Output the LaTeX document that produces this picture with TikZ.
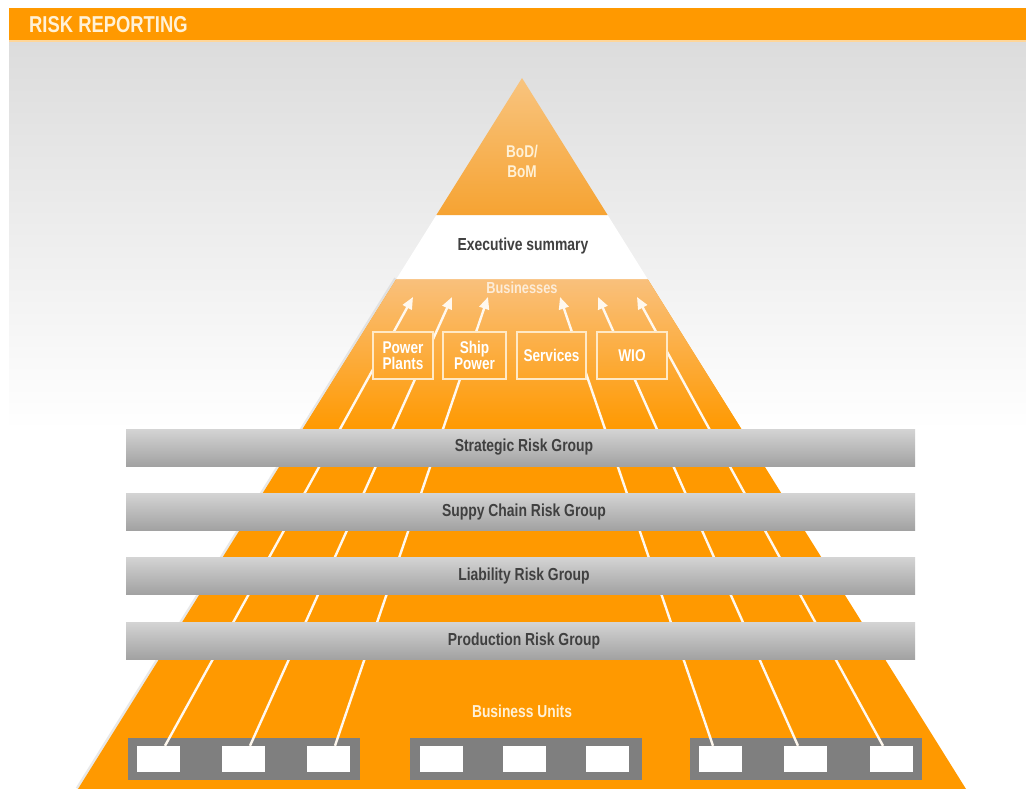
\documentclass[tikz,border=0pt]{standalone}
\usepackage{fontspec}
\setmainfont{Liberation Sans}
\newfontfamily\cnd[FakeStretch=0.8]{Liberation Sans}
\usetikzlibrary{arrows.meta,calc}
\definecolor{orM}{HTML}{FF9900}
\definecolor{orA}{HTML}{F9C07C}
\definecolor{bodT}{HTML}{F8C47F}
\definecolor{bodB}{HTML}{F6A332}
\definecolor{bgT}{HTML}{DCDCDC}
\definecolor{hdrtxt}{HTML}{FFF1D6}
\definecolor{darktxt}{HTML}{404040}
\definecolor{barT}{HTML}{D4D4D4}
\definecolor{barB}{HTML}{A2A2A2}
\definecolor{unitgray}{HTML}{7F7F7F}
\definecolor{boxline}{HTML}{FFE9C6}
\definecolor{linecol}{HTML}{FFF8EE}
\tikzset{
  hdrtext/.style={font=\cnd\bfseries\fontsize{23}{23}\selectfont, text=hdrtxt, inner sep=0},
  darklabel/.style={font=\cnd\bfseries\fontsize{17.4}{18}\selectfont, text=darktxt, inner sep=0},
  lightlabel/.style={font=\cnd\bfseries\fontsize{17.3}{18}\selectfont, text=hdrtxt, inner sep=0},
  bizbox/.style={draw=boxline, line width=1.8pt, inner sep=0, minimum height=47pt,
    top color=orM!35!orA, bottom color=orM!67!orA, text=white, align=center,
    font=\cnd\bfseries\fontsize{17}{16}\selectfont},
  riskbar/.style={inner sep=0, minimum width=789pt, minimum height=37pt,
    top color=barT, bottom color=barB, font=\cnd\bfseries\fontsize{17.4}{18}\selectfont, text=darktxt},
  unitgroup/.style={fill=unitgray, inner sep=0, minimum width=232pt, minimum height=42pt},
  unitbox/.style={fill=white, inner sep=0, minimum width=43pt, minimum height=26pt},
  reportline/.style={draw=linecol, line width=2.4pt, -{Triangle[width=10pt,length=12pt]}},
  edgeshadow/.style={draw=black!25, line width=5pt, opacity=0.35}
}
\begin{document}
\begin{tikzpicture}[x=1pt,y=-1pt]
\useasboundingbox (0,0) rectangle (1026,789);
\fill[white] (0,0) rectangle (1026,789);
% background
\shade[top color=bgT, bottom color=white] (9,40) rectangle (1026,430);
% header
\fill[orM] (9,8) rectangle (1026,40);
\fill[orM!40!white] (9,40) rectangle (1026,42);
\node[hdrtext, anchor=base west] (title) at (29,33) {RISK REPORTING};
% soft shadow along the pyramid sides
\draw[edgeshadow] (396.4,279) -- (78,789);
% pyramid body
\fill[orM] (396.4,279) -- (647.6,279) -- (966,789) -- (78,789) -- cycle;
\shade[top color=orA, bottom color=orM] (396.4,279) -- (647.6,279) -- (742,430) -- (302,430) -- cycle;
% executive summary band
\fill[white] (436.4,215) -- (607.6,215) -- (647.6,279) -- (396.4,279) -- cycle;
% BoD triangle
\shade[top color=bodT, bottom color=bodB] (522,78) -- (607.6,215) -- (436.4,215) -- cycle;
\node[font=\cnd\bfseries\fontsize{17}{20}\selectfont, text=hdrtxt, align=center] (bod) at (522,161) {BoD/\\BoM};
\node[darklabel] (exec) at (523,246) {Executive summary};
\node[font=\cnd\bfseries\fontsize{16}{16}\selectfont, text=orA!30!white, inner sep=0] (biz) at (522,288) {Businesses};
% arrow tips
\coordinate (t1) at (413,297);
\coordinate (t2) at (452,297);
\coordinate (t3) at (488,297);
\coordinate (t4) at (560,297);
\coordinate (t5) at (598,297);
\coordinate (t6) at (637,297);
% business units
\node[unitgroup] (g1) at (243.5,759) {};
\node[unitgroup] (g2) at (526,759) {};
\node[unitgroup] (g3) at (806,759) {};
\node[unitbox] (u1) at (158.5,759) {};
\node[unitbox] (u2) at (243.5,759) {};
\node[unitbox] (u3) at (328,759) {};
\node[unitbox] (u4) at (441.5,759) {};
\node[unitbox] (u5) at (524.5,759) {};
\node[unitbox] (u6) at (607,759) {};
\node[unitbox] (u7) at (720.5,759) {};
\node[unitbox] (u8) at (805,759) {};
\node[unitbox] (u9) at (891.5,759) {};
% reporting lines
\draw[reportline] ($(u1.north)+(6.5,0)$) -- (t1);
\draw[reportline] ($(u2.north)+(6.5,0)$) -- (t2);
\draw[reportline] ($(u3.north)+(7,0)$) -- (t3);
\draw[reportline] ($(u7.north)+(-7.5,0)$) -- (t4);
\draw[reportline] ($(u8.north)+(-7,0)$) -- (t5);
\draw[reportline] ($(u9.north)+(-8.5,0)$) -- (t6);
% business boxes
\node[bizbox, minimum width=60pt] (pp) at (403,355.5) {Power\\Plants};
\node[bizbox, minimum width=63pt] (sp) at (474.5,355.5) {Ship\\Power};
\node[bizbox, minimum width=69pt] (sv) at (551.5,355.5) {Services};
\node[bizbox, minimum width=70pt] (wio) at (632,355.5) {WIO};
% risk bars
\node[riskbar] (r1) at (520.5,447.5) {\hspace*{7pt}Strategic Risk Group};
\node[riskbar] (r2) at (520.5,511.5) {\hspace*{7pt}Suppy Chain Risk Group};
\node[riskbar] (r3) at (520.5,575.5) {\hspace*{7pt}Liability Risk Group};
\node[riskbar] (r4) at (520.5,640.5) {\hspace*{7pt}Production Risk Group};
\node[lightlabel] (bu) at (522,711) {Business Units};
\end{tikzpicture}
\end{document}
